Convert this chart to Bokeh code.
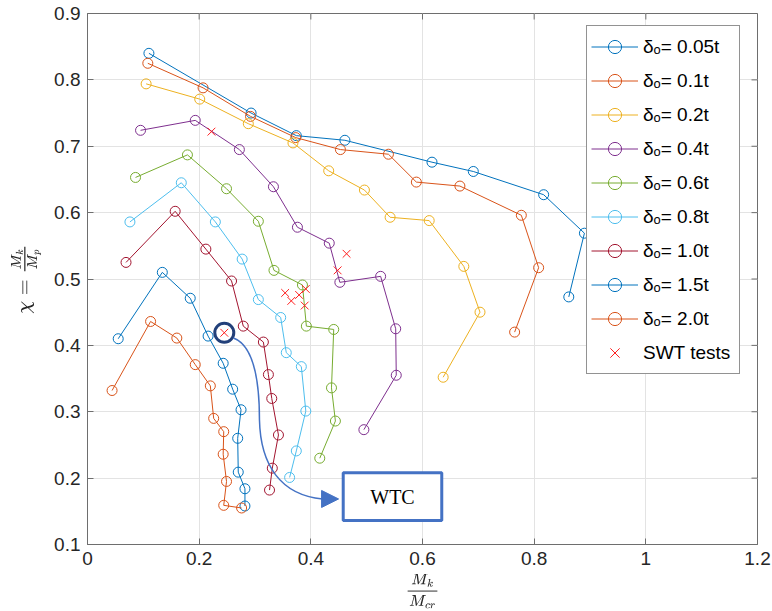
from bokeh.plotting import figure
from bokeh.models import (FixedTicker, BoxAnnotation, Label, Arrow,
                          NormalHead, TeX)
from bokeh.embed import file_html
from bokeh.resources import INLINE

# ---------------- data ----------------
series_labels = ["δₒ= 0.05t", "δₒ= 0.1t", "δₒ= 0.2t", "δₒ= 0.4t", "δₒ= 0.6t",
                 "δₒ= 0.8t", "δₒ= 1.0t", "δₒ= 1.5t", "δₒ= 2.0t"]
series_colors = ["#0072BD", "#D95319", "#EDB120", "#7E2F8E", "#77AC30",
                 "#4DBEEE", "#A2142F", "#0072BD", "#D95319"]

s005_x = [0.110, 0.293, 0.374, 0.461, 0.617, 0.691, 0.817, 0.890, 0.862]
s005_y = [0.840, 0.750, 0.716, 0.709, 0.676, 0.662, 0.627, 0.569, 0.473]

s01_x = [0.108, 0.207, 0.292, 0.373, 0.453, 0.539, 0.589, 0.667, 0.777, 0.808, 0.765]
s01_y = [0.825, 0.788, 0.745, 0.713, 0.695, 0.688, 0.646, 0.640, 0.596, 0.517, 0.420]

s02_x = [0.105, 0.201, 0.288, 0.368, 0.432, 0.496, 0.542, 0.612, 0.674, 0.703, 0.637]
s02_y = [0.794, 0.771, 0.734, 0.705, 0.663, 0.634, 0.593, 0.588, 0.519, 0.450, 0.352]

s04_x = [0.095, 0.193, 0.272, 0.333, 0.376, 0.433, 0.452, 0.525, 0.552, 0.553, 0.495]
s04_y = [0.724, 0.739, 0.695, 0.639, 0.578, 0.554, 0.495, 0.504, 0.425, 0.355, 0.273]

s06_x = [0.086, 0.179, 0.249, 0.306, 0.334, 0.385, 0.392, 0.441, 0.437, 0.444, 0.416]
s06_y = [0.653, 0.687, 0.636, 0.587, 0.513, 0.491, 0.429, 0.424, 0.336, 0.286, 0.230]

s08_x = [0.076, 0.168, 0.229, 0.277, 0.306, 0.346, 0.356, 0.383, 0.391, 0.374, 0.362]
s08_y = [0.586, 0.645, 0.586, 0.530, 0.469, 0.442, 0.389, 0.368, 0.301, 0.241, 0.201]

s10_x = [0.069, 0.157, 0.212, 0.258, 0.279, 0.315, 0.324, 0.330, 0.342, 0.331, 0.326]
s10_y = [0.525, 0.602, 0.545, 0.497, 0.429, 0.405, 0.356, 0.320, 0.265, 0.215, 0.182]

s15_x = [0.055, 0.134, 0.184, 0.216, 0.243, 0.260, 0.275, 0.269, 0.270, 0.282, 0.282]
s15_y = [0.410, 0.510, 0.471, 0.414, 0.373, 0.334, 0.303, 0.260, 0.209, 0.184, 0.158]

s20_x = [0.044, 0.113, 0.160, 0.193, 0.220, 0.226, 0.244, 0.243, 0.249, 0.244, 0.276]
s20_y = [0.332, 0.436, 0.411, 0.371, 0.339, 0.290, 0.270, 0.236, 0.195, 0.159, 0.155]

swt_label = "SWT tests"
swt_x = [0.222, 0.245, 0.354, 0.365, 0.379, 0.391, 0.389, 0.448, 0.464]
swt_y = [0.722, 0.419, 0.479, 0.467, 0.476, 0.485, 0.460, 0.513, 0.538]
wtc_index = 1

x_ticks = [0.0, 0.2, 0.4, 0.6, 0.8, 1.0, 1.2]
x_tick_labels = ["0", "0.2", "0.4", "0.6", "0.8", "1", "1.2"]
y_ticks = [0.1, 0.2, 0.3, 0.4, 0.5, 0.6, 0.7, 0.8, 0.9]
y_tick_labels = ["0.1", "0.2", "0.3", "0.4", "0.5", "0.6", "0.7", "0.8", "0.9"]

x_label = r"\frac{M_k}{M_{cr}}"
y_label = r"\chi = \frac{M_k}{M_p}"
wtc_text = "WTC"

# annotation geometry (data units)
wtc_box = dict(left=0.458, right=0.6345, bottom=0.136, top=0.208)
curve1 = dict(x0=0.2613, y0=0.411, x1=0.308, y1=0.2875,
              cx0=0.2954, cy0=0.4004, cx1=0.308, cy1=0.3552)
curve2 = dict(x0=0.308, y0=0.2875, x1=0.421, y1=0.1686,
              cx0=0.3098, cy0=0.2198, cx1=0.3457, cy1=0.1747)
arrow_end_x = 0.4497

all_x = [s005_x, s01_x, s02_x, s04_x, s06_x, s08_x, s10_x, s15_x, s20_x]
all_y = [s005_y, s01_y, s02_y, s04_y, s06_y, s08_y, s10_y, s15_y, s20_y]

# ---------------- figure ----------------
FONT = "Liberation Sans"
AXCOL = "#6e6e6e"
TXTCOL = "#262626"
X0, X1, Y0, Y1 = 0.0, 1.2, 0.1, 0.9
FW, FH = 670, 532          # frame size in px
TICK = 6                   # tick length in px

p = figure(width=772, height=611, x_range=(X0, X1), y_range=(Y0, Y1),
           output_backend="svg", toolbar_location=None,
           min_border_left=87, min_border_right=15, min_border_top=13,
           min_border_bottom=66, background_fill_color="white",
           border_fill_color="white")
p.outline_line_color = AXCOL
p.outline_line_width = 1

xt = FixedTicker(ticks=x_ticks, minor_ticks=[])
yt = FixedTicker(ticks=y_ticks, minor_ticks=[])
p.xaxis.ticker = xt
p.yaxis.ticker = yt
p.xaxis.major_label_overrides = dict(zip(x_ticks, x_tick_labels))
p.yaxis.major_label_overrides = dict(zip(y_ticks, y_tick_labels))

for ax in (p.xaxis[0], p.yaxis[0]):
    ax.axis_line_color = AXCOL
    ax.major_tick_line_color = AXCOL
    ax.major_tick_in = TICK
    ax.major_tick_out = 0
    ax.minor_tick_line_color = None
    ax.major_label_text_font = FONT
    ax.major_label_text_font_size = "19px"
    ax.major_label_text_color = TXTCOL
    ax.axis_label_text_color = TXTCOL
    ax.axis_label_text_font_style = "normal"

p.xaxis[0].axis_label = TeX(text=x_label)
p.yaxis[0].axis_label = TeX(text=y_label, inline=True)
p.xaxis[0].axis_label_text_font_size = "12px"
p.yaxis[0].axis_label_text_font_size = "16px"
p.xaxis[0].major_label_standoff = 7
p.yaxis[0].major_label_standoff = 7
p.xaxis[0].axis_label_standoff = 6
p.yaxis[0].axis_label_standoff = 10

p.xgrid.grid_line_color = "#e3e3e3"
p.ygrid.grid_line_color = "#e3e3e3"
p.xgrid.grid_line_width = 1
p.ygrid.grid_line_width = 1

# inward tick marks on the top and right edges (box style)
dy = (Y1 - Y0) * TICK / FH
dx = (X1 - X0) * TICK / FW
p.segment(x0=x_ticks, y0=[Y1] * len(x_ticks), x1=x_ticks,
          y1=[Y1 - dy] * len(x_ticks), line_color=AXCOL, line_width=1)
p.segment(x0=[X1] * len(y_ticks), y0=y_ticks, x1=[X1 - dx] * len(y_ticks),
          y1=y_ticks, line_color=AXCOL, line_width=1)

# ---------------- series ----------------
for xs, ys, lab, col in zip(all_x, all_y, series_labels, series_colors):
    p.line(xs, ys, line_color=col, line_width=1, legend_label=lab)
    p.scatter(xs, ys, marker="circle", size=10, fill_color=None,
              line_color=col, line_width=1, legend_label=lab)

p.scatter(swt_x, swt_y, marker="x", size=11, line_color="#FF2020",
          line_width=1, legend_label=swt_label)

# highlight circle around the WTC test
p.scatter([swt_x[wtc_index]], [swt_y[wtc_index]], marker="circle", size=19,
          fill_color=None, line_color="#22407A", line_width=3)

# connector curve + arrow
p.bezier(**curve1, line_color="#4472C4", line_width=1.5)
p.bezier(**curve2, line_color="#4472C4", line_width=1.5)
p.add_layout(Arrow(end=NormalHead(size=17, fill_color="#4472C4",
                                  line_color="#4472C4"),
                   x_start=curve2["x1"], y_start=curve2["y1"],
                   x_end=arrow_end_x, y_end=curve2["y1"],
                   line_color="#4472C4", line_width=1.5))

p.add_layout(BoxAnnotation(**wtc_box, fill_color="white", fill_alpha=1.0,
                           line_color="#4472C4", line_width=3, line_alpha=1.0))
p.add_layout(Label(x=(wtc_box["left"] + wtc_box["right"]) / 2,
                   y=(wtc_box["top"] + wtc_box["bottom"]) / 2,
                   text=wtc_text, text_align="center", text_baseline="middle",
                   text_font="Liberation Serif", text_font_size="20px",
                   text_color="black"))

# ---------------- legend ----------------
lg = p.legend[0]
lg.location = (499, 170)
lg.border_line_color = TXTCOL
lg.border_line_width = 1
lg.background_fill_color = "white"
lg.background_fill_alpha = 1.0
lg.label_text_font = FONT
lg.label_text_font_size = "19px"
lg.label_text_color = "black"
lg.glyph_width = 47
lg.glyph_height = 33
lg.label_height = 33
lg.label_width = 92
lg.label_standoff = 5
lg.spacing = 1
lg.padding = 4
lg.margin = 0

open("out.html", "w").write(file_html(p, INLINE))
